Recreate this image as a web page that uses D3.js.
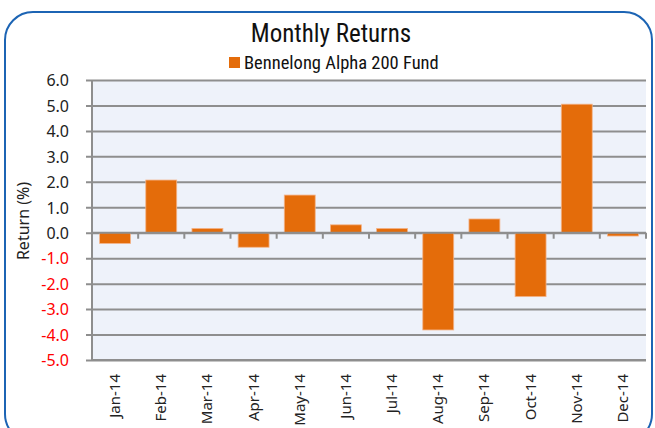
<!DOCTYPE html>
<html>
<head>
<meta charset="utf-8">
<script src="https://cdn.jsdelivr.net/npm/d3@7"></script>
<style>
  body { margin: 0; background: #fff; }
  svg { display: block; }
</style>
</head>
<body>
<div id="chart"></div>
<script>
// Data
const months = ['Jan-14', 'Feb-14', 'Mar-14', 'Apr-14', 'May-14', 'Jun-14',
  'Jul-14', 'Aug-14', 'Sep-14', 'Oct-14', 'Nov-14', 'Dec-14']
const returns = [-0.42, 2.07, 0.17, -0.57, 1.48, 0.31, 0.17, -3.82, 0.54, -2.51, 5.05, -0.13]
const seriesName = 'Bennelong Alpha 200 Fund'
const yTicks = [6, 5, 4, 3, 2, 1, 0, -1, -2, -3, -4, -5]

// Dimensions
const dims = {
  width: 655,
  height: 428,
  left: 92,
  right: 646,
  top: 80,
  bottom: 360
}

const font = "'Liberation Sans Narrow', 'Roboto Condensed', Lato, sans-serif"
const tickFont = "'Noto Sans', 'Open Sans', sans-serif"

const svg = d3.select('#chart')
  .append('svg')
    .attr('width', dims.width)
    .attr('height', dims.height)

// Frame
svg.append('rect')
  .attr('x', 5)
  .attr('y', 12)
  .attr('width', 647)
  .attr('height', 430)
  .attr('rx', 28)
  .attr('fill', 'none')
  .attr('stroke', '#1c64b4')
  .attr('stroke-width', 2)

// Scales
const x = d3.scaleBand()
  .domain(months)
  .range([dims.left, dims.right])
  .paddingInner(0.33)
  .paddingOuter(0.165)

const band = d3.scaleBand()
  .domain(months)
  .range([dims.left, dims.right])

const y = d3.scaleLinear()
  .domain([-5, 6])
  .range([dims.bottom, dims.top])

// Plot background
svg.append('rect')
  .attr('x', dims.left)
  .attr('y', dims.top)
  .attr('width', dims.right - dims.left)
  .attr('height', dims.bottom - dims.top)
  .attr('fill', '#eef2fa')

// Gridlines + y axis
const yAxis = d3.axisLeft(y)
  .tickValues(yTicks)
  .tickSize(-(dims.right - dims.left))
  .tickFormat(d => d.toFixed(1))

const yg = svg.append('g')
  .attr('transform', `translate(${dims.left},0)`)
  .call(yAxis)

yg.select('.domain').remove()
yg.selectAll('.tick line')
  .attr('x1', -6)
  .attr('stroke', '#8e8e8e')
  .attr('stroke-width', 2)
yg.selectAll('.tick text')
  .attr('x', -23)
  .attr('dy', '0.36em')
  .attr('font-family', tickFont)
  .attr('font-size', 16)
  .attr('fill', d => d < 0 ? '#ff0000' : '#222')

// Bars
svg.append('g')
  .selectAll('rect')
  .data(returns)
  .join('rect')
    .attr('x', (d, i) => x(months[i]))
    .attr('y', d => y(Math.max(0, d)))
    .attr('width', x.bandwidth())
    .attr('height', d => Math.abs(y(d) - y(0)))
    .attr('fill', '#e46c0a')
    .attr('stroke', '#f3b48a')
    .attr('stroke-width', 0.8)

// Zero axis with ticks at band edges
const xg = svg.append('g')
  .attr('transform', `translate(0,${y(0)})`)

xg.append('line')
  .attr('x1', dims.left)
  .attr('x2', dims.right)
  .attr('stroke', '#8e8e8e')
  .attr('stroke-width', 2)

xg.selectAll('line.tk')
  .data(months.concat(['end']))
  .join('line')
    .attr('class', 'tk')
    .attr('x1', (d, i) => i < months.length ? band(d) : dims.right)
    .attr('x2', (d, i) => i < months.length ? band(d) : dims.right)
    .attr('y1', 0)
    .attr('y2', 6)
    .attr('stroke', '#8e8e8e')
    .attr('stroke-width', 2)

// Y axis line
svg.append('line')
  .attr('x1', dims.left)
  .attr('x2', dims.left)
  .attr('y1', dims.top)
  .attr('y2', dims.bottom)
  .attr('stroke', '#8e8e8e')
  .attr('stroke-width', 2)

// Bottom edge
svg.append('line')
  .attr('x1', dims.left)
  .attr('x2', dims.right)
  .attr('y1', dims.bottom)
  .attr('y2', dims.bottom)
  .attr('stroke', '#8e8e8e')
  .attr('stroke-width', 2)

// Month labels
svg.append('g')
  .selectAll('text')
  .data(months)
  .join('text')
    .attr('transform', d => `translate(${band(d) + band.bandwidth() / 2 + 5},374) rotate(-90)`)
    .attr('text-anchor', 'end')
    .attr('font-family', tickFont)
    .attr('font-size', 15)
    .attr('fill', '#222')
    .text(d => d)

// Y title
svg.append('text')
  .attr('transform', 'translate(29,221) rotate(-90)')
  .attr('text-anchor', 'middle')
  .attr('font-family', tickFont)
  .attr('font-size', 16)
  .attr('fill', '#222')
  .text('Return (%)')

// Title
svg.append('text')
  .attr('x', 331)
  .attr('y', 42)
  .attr('text-anchor', 'middle')
  .attr('font-family', font)
  .attr('font-size', 25)
  .attr('fill', '#111')
  .text('Monthly Returns')

// Legend
svg.append('rect')
  .attr('x', 229)
  .attr('y', 57)
  .attr('width', 11)
  .attr('height', 11)
  .attr('fill', '#e46c0a')

svg.append('text')
  .attr('x', 244)
  .attr('y', 69)
  .attr('font-family', font)
  .attr('font-size', 18.5)
  .attr('fill', '#111')
  .text(seriesName)
</script>
</body>
</html>
